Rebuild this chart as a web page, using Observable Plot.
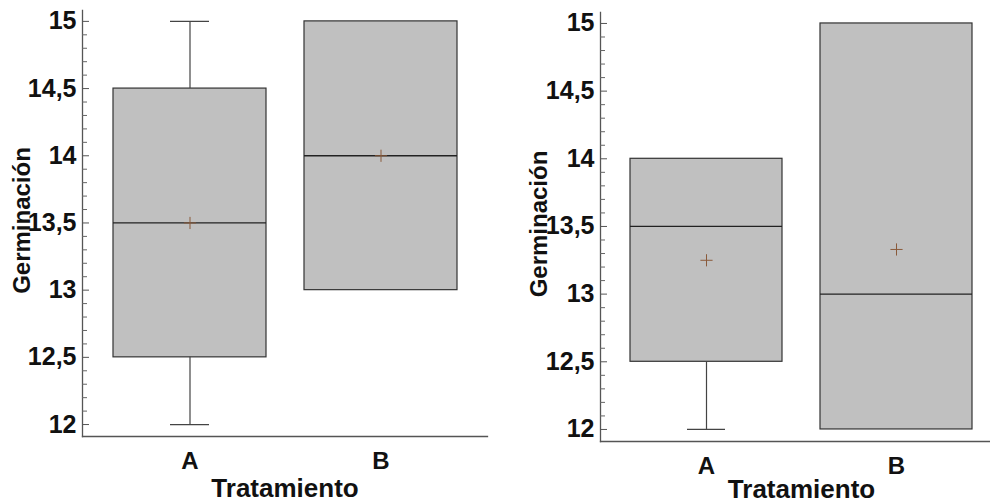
<!DOCTYPE html>
<html>
<head>
<meta charset="utf-8">
<script src="https://cdn.jsdelivr.net/npm/d3@7"></script>
<script src="https://cdn.jsdelivr.net/npm/@observablehq/plot@0.6"></script>
<style>
  html, body { margin: 0; padding: 0; background: #fff; overflow: hidden; }
  #wrap { position: relative; width: 990px; height: 503px; overflow: hidden; }
  #p1, #p2 { position: absolute; top: 0; height: 503px; }
  #p1 { left: 0; width: 495px; }
  #p2 { left: 495px; width: 507px; }
  #wrap svg { max-width: none !important; }
</style>
</head>
<body>
<div id="wrap"><div id="p1"></div><div id="p2"></div></div>
<script>
// ---- data ----
const groups = ["A", "B"];
// panel 1 (left)
const min1 = [12, 13];
const q1_1 = [12.5, 13];
const med1 = [13.5, 14];
const q3_1 = [14.5, 15];
const max1 = [15, 15];
const mean1 = [13.5, 14];
// panel 2 (right)
const min2 = [12, 12];
const q1_2 = [12.5, 12];
const med2 = [13.5, 13];
const q3_2 = [14, 15];
const max2 = [14, 15];
const mean2 = [13.25, 13.33];

const yTicks = [12, 12.5, 13, 13.5, 14, 14.5, 15];
const yTickLabels = ["12", "12,5", "13", "13,5", "14", "14,5", "15"];
const xLabel = "Tratamiento";
const yLabel = "Germinación";

const minorTicks = d3.range(120, 151).map(d => d / 10).filter(v => !yTicks.some(t => Math.abs(t - v) < 1e-9));
const fmt = d => { const i = yTicks.findIndex(t => Math.abs(t - d) < 1e-9); return i >= 0 ? yTickLabels[i] : ""; };

function rows(mins, q1s, meds, q3s, maxs, means) {
  return groups.map((g, i) => ({g, min: mins[i], q1: q1s[i], med: meds[i], q3: q3s[i], max: maxs[i], mean: means[i]}));
}

function panel({data, width, marginLeft, marginRight, marginTop, marginBottom, ylabDx, titleDy}) {
  const font = "'Liberation Sans', Arial, sans-serif";
  return Plot.plot({
    width, height: 503, marginLeft, marginRight, marginTop, marginBottom,
    style: {fontFamily: font, fontWeight: "bold", background: "#fff", color: "#111"},
    x: {type: "band", domain: groups, paddingInner: 0.2, paddingOuter: 0.157, axis: null},
    y: {domain: [11.911, 15.081], axis: null},
    marks: [
      Plot.barY(data, {x: "g", y1: "q1", y2: "q3", fill: "#c0c0c0", stroke: "#333", strokeWidth: 1.2}),
      Plot.ruleX(data.filter(d => d.min < d.q1), {x: "g", y1: "min", y2: "q1", stroke: "#444", strokeWidth: 1.2}),
      Plot.ruleX(data.filter(d => d.max > d.q3), {x: "g", y1: "q3", y2: "max", stroke: "#444", strokeWidth: 1.2}),
      Plot.tickY(data.filter(d => d.min < d.q1), {x: "g", y: "min", stroke: "#444", strokeWidth: 1.2, insetLeft: 57, insetRight: 57}),
      Plot.tickY(data.filter(d => d.max > d.q3), {x: "g", y: "max", stroke: "#444", strokeWidth: 1.2, insetLeft: 57, insetRight: 57}),
      Plot.tickY(data, {x: "g", y: "med", stroke: "#222", strokeWidth: 1.3}),
      Plot.dot(data, {x: "g", y: "mean", symbol: "plus", r: 4, stroke: "#8a5a3a", strokeWidth: 1}),
      Plot.frame({anchor: "left", stroke: "#555", strokeWidth: 1.3}),
      Plot.frame({anchor: "bottom", stroke: "#555", strokeWidth: 1.3}),
      Plot.axisY(minorTicks, {anchor: "left", tickSize: -5, tickFormat: () => "", label: null, stroke: "#666"}),
      Plot.axisY(yTicks, {anchor: "left", tickSize: -7, tickPadding: 13, tickFormat: fmt, label: null, stroke: "#555", fill: "#111", fontSize: 25, fontWeight: "bold"}),
      Plot.axisX(groups, {anchor: "bottom", tickSize: 0, tickPadding: 15, label: null, fill: "#111", fontSize: 24, fontWeight: "bold"}),
      Plot.text([xLabel], {frameAnchor: "bottom", textAnchor: "middle", lineAnchor: "bottom", dy: titleDy, fontSize: 26, fontWeight: "bold", fill: "#111"}),
      Plot.text([yLabel], {frameAnchor: "left", textAnchor: "middle", rotate: -90, lineAnchor: "top", dx: ylabDx, dy: -3, fontSize: 24, fontWeight: "bold", fill: "#111"})
    ]
  });
}

document.getElementById("p1").append(panel({
  data: rows(min1, q1_1, med1, q3_1, max1, mean1),
  width: 495, marginLeft: 82, marginRight: 8, marginTop: 10, marginBottom: 67, ylabDx: -70, titleDy: 60
}));
document.getElementById("p2").append(panel({
  data: rows(min2, q1_2, med2, q3_2, max2, mean2),
  width: 507, marginLeft: 105, marginRight: 0, marginTop: 12, marginBottom: 62, ylabDx: -71, titleDy: 56
}));
</script>
</body>
</html>
